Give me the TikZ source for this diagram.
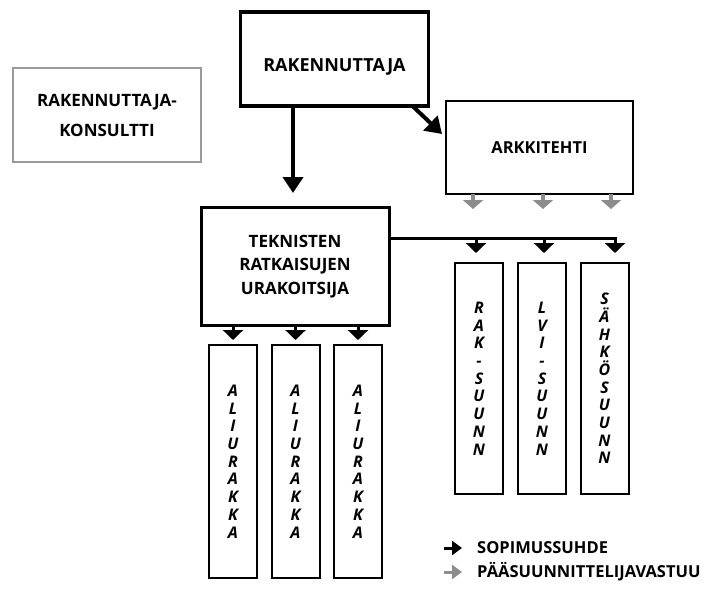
\documentclass[tikz,border=0pt]{standalone}
\usepackage{fontspec}
\setmainfont{Open Sans}
\usetikzlibrary{arrows.meta,calc}

\definecolor{framegray}{HTML}{9A9A9A}
\definecolor{arrowgray}{HTML}{8C8C8C}

\begin{document}
\begin{tikzpicture}[x=1pt,y=-1pt,
  box/.style={draw, inner sep=0pt, outer sep=0pt, align=center},
  mainbox/.style={box, line width=3pt, font=\bfseries\fontsize{17}{23.5}\selectfont},
  slimbox/.style={box, line width=2pt, minimum width=48pt,
    font=\bfseries\itshape\fontsize{16}{17.7}\selectfont},
  bigarrow/.style={line width=4pt, -{Triangle[width=20pt,length=16pt]}},
  subarrow/.style={line width=3pt, -{Triangle[width=20pt,length=10pt]}},
  grayarrow/.style={arrowgray, line width=3.5pt, -{Triangle[width=20pt,length=9pt]}},
  keyarrow/.style={line width=3pt, -{Triangle[width=14pt,length=10pt]}},
  keytext/.style={anchor=west, inner sep=0pt, font=\bfseries\fontsize{16.5}{18}\selectfont}]
\useasboundingbox (0,0) rectangle (706,591);

% top level parties
\node[mainbox, line width=3.5pt, minimum width=188pt, minimum height=94pt,
      font=\bfseries\fontsize{18}{20}\selectfont] (rak) at (334.5,59)
  {\raisebox{-13pt}[0pt][0pt]{RAKENNUTTAJA}};
\node[box, draw=framegray, line width=2pt, minimum width=188pt, minimum height=94pt,
      font=\bfseries\fontsize{17}{30}\selectfont] (kons) at (107,115)
  {RAKENNUTTAJA-\\KONSULTTI};
\node[mainbox, line width=2.8pt, minimum width=187pt, minimum height=93pt,
      font=\bfseries\fontsize{16.5}{20}\selectfont] (ark) at (539.5,147.5) {ARKKITEHTI};
\node[mainbox, minimum width=188pt, minimum height=118pt] (tru) at (295,266)
  {\raisebox{-3pt}{\begin{tabular}{@{}c@{}}TEKNISTEN\\RATKAISUJEN\\URAKOITSIJA\end{tabular}}};

% designers
\node[slimbox, minimum height=231pt] (s1) at (479,378.5) {R\\A\\K\\-\\S\\U\\U\\N\\N};
\node[slimbox, minimum height=231pt] (s2) at (542,378.5) {L\\V\\I\\-\\S\\U\\U\\N\\N};
\node[slimbox, minimum height=231pt] (s3) at (604.5,378.5) {S\\Ä\\H\\K\\Ö\\S\\U\\U\\N\\N};

% subcontracts
\node[slimbox, minimum height=233pt] (a1) at (233,461.5) {A\\L\\I\\U\\R\\A\\K\\K\\A};
\node[slimbox, minimum height=233pt] (a2) at (295.5,461.5) {A\\L\\I\\U\\R\\A\\K\\K\\A};
\node[slimbox, minimum height=233pt] (a3) at (358,461.5) {A\\L\\I\\U\\R\\A\\K\\K\\A};

% contract relations
\draw[bigarrow, shorten >=14pt] ([xshift=-41.5pt]rak.south) -- ([xshift=-41.5pt]rak.south |- tru.north);
\draw[bigarrow] ([xshift=-16pt]rak.south east) -- ([shift={(-4,33)}]ark.north west);

\coordinate (b1) at (476,238);
\coordinate (b2) at (544,238);
\coordinate (b3) at (615,238);
\draw[line width=3pt] (tru.east |- b1) -- (b3);
\draw[subarrow, shorten >=10pt] (b1) -- (b1 |- s1.north);
\draw[subarrow, shorten >=10pt] (b2) -- (b2 |- s2.north);
\draw[subarrow, shorten >=10pt] ([yshift=1.5pt]b3) -- (b3 |- s3.north);

\foreach \a in {a1,a2,a3}
  \draw[subarrow, shorten >=5pt] (\a.north |- tru.south) -- (\a.north);

% lead designer responsibility
\coordinate (g1) at (473,209);
\coordinate (g2) at (543,209);
\coordinate (g3) at (611,209);
\foreach \g in {g1,g2,g3}
  \draw[grayarrow] (ark.south -| \g) -- (\g);

% key
\coordinate (k1) at (444,548);
\coordinate (k2) at (444,572);
\draw[keyarrow] (k1) -- ++(18,0);
\draw[keyarrow, arrowgray] (k2) -- ++(18,0);
\node[keytext] (t1) at (477,548) {SOPIMUSSUHDE};
\node[keytext] (t2) at (477,572) {PÄÄSUUNNITTELIJAVASTUU};
\end{tikzpicture}
\end{document}
